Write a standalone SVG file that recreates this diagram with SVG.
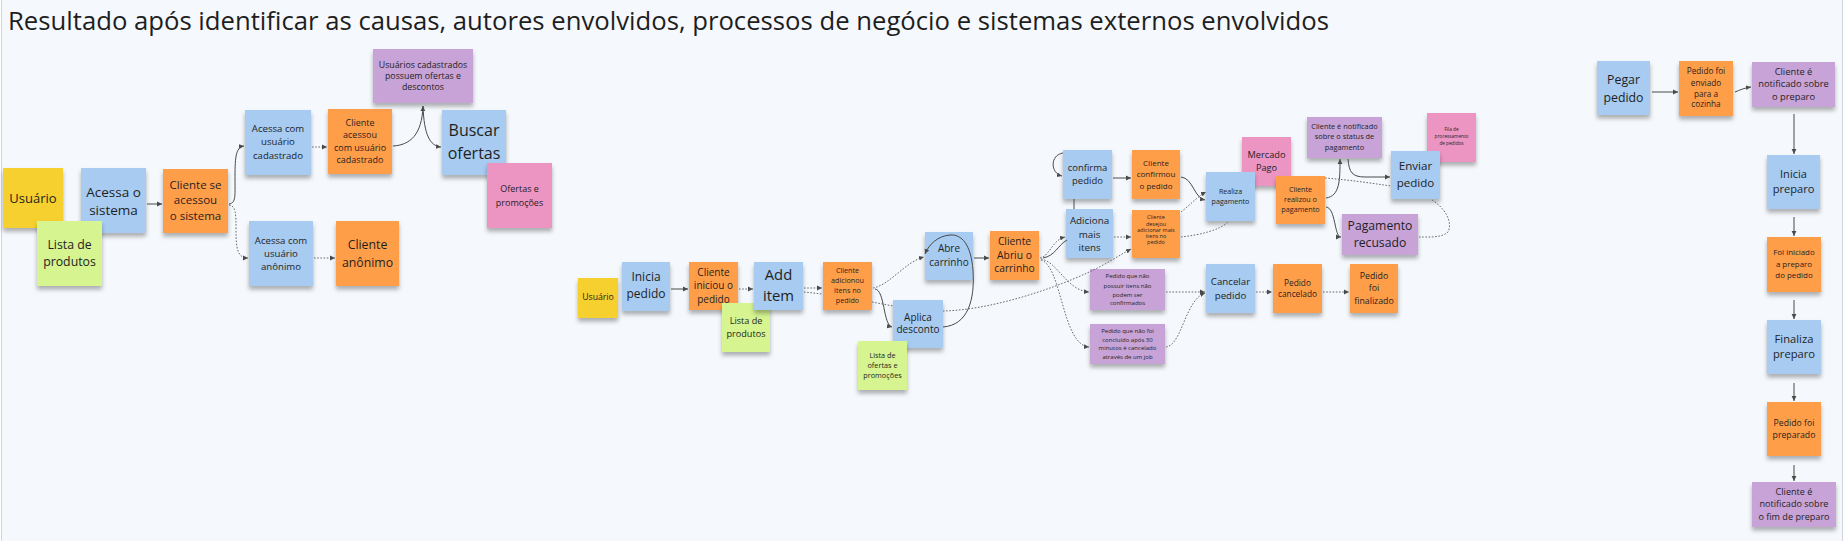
<svg xmlns="http://www.w3.org/2000/svg" width="1848" height="541" viewBox="0 0 1848 541">
<style>
.t{font-family:"Open Sans","Noto Sans","Liberation Sans",sans-serif;fill:#1f1f1f;text-anchor:middle}
.b{fill:#a7cbf1}.o{fill:#ff9e4a}.y{fill:#f6d02f}.g{fill:#d6f490}.p{fill:#c7a3d8}.k{fill:#ec95c3}
.n rect{filter:url(#sh)}
.c{fill:none;stroke:#4a4a4a;stroke-width:1}
.c.s{marker-end:url(#ar)}
.d{fill:none;stroke:#6a6a6a;stroke-width:1;stroke-dasharray:1.6 1.6}
.d.a{marker-end:url(#ar)}
.title{font-family:"Open Sans","Noto Sans","Liberation Sans",sans-serif;font-size:25px;fill:#1e1e1e}
</style>
<defs>
<filter id="sh" x="-10%" y="-10%" width="120%" height="130%">
<feDropShadow dx="0" dy="3.5" stdDeviation="2.2" flood-color="#000" flood-opacity="0.3"/>
</filter>
<marker id="ar" markerUnits="userSpaceOnUse" markerWidth="6" markerHeight="6" refX="5" refY="3" orient="auto">
<path d="M0,0.6 L5,3 L0,5.4 z" fill="#4a4a4a"/>
</marker>
</defs>
<rect x="0" y="0" width="1848" height="541" fill="#ffffff"/>
<rect x="1.5" y="-5" width="1841" height="560" fill="#f5f8fc" stroke="#d3d7dc" stroke-width="1"/>
<text class="title" x="8" y="30" textLength="1321" lengthAdjust="spacingAndGlyphs">Resultado após identificar as causas, autores envolvidos, processos de negócio e sistemas externos envolvidos</text>

<g id="nodes" class="n">
<g id="usuario1"><rect class="y" x="3" y="168" width="60" height="60"/><text class="t" font-size="13" x="33" y="202.7">Usuário</text></g>
<g id="acessa-sistema"><rect class="b" x="81" y="168" width="65" height="65"/><text class="t" font-size="13.5"><tspan x="113.5" y="196.5">Acessa o</tspan><tspan x="113.5" y="214.5">sistema</tspan></text></g>
<g id="lista-produtos-1"><rect class="g" x="37" y="221" width="65" height="65"/><text class="t" font-size="12.3"><tspan x="69.5" y="249.4">Lista de</tspan><tspan x="69.5" y="266.2">produtos</tspan></text></g>
<g id="cliente-se-acessou"><rect class="o" x="163" y="169" width="65" height="64"/><text class="t" font-size="11.5"><tspan x="195.5" y="189.3">Cliente se</tspan><tspan x="195.5" y="204.4">acessou</tspan><tspan x="195.5" y="219.8">o sistema</tspan></text></g>
<g id="acessa-cadastrado"><rect class="b" x="245" y="110" width="66" height="65"/><text class="t" font-size="9.6"><tspan x="278" y="132">Acessa com</tspan><tspan x="278" y="145.3">usuário</tspan><tspan x="278" y="158.6">cadastrado</tspan></text></g>
<g id="acessa-anonimo"><rect class="b" x="249" y="221" width="64" height="65"/><text class="t" font-size="9.6"><tspan x="281" y="243.5">Acessa com</tspan><tspan x="281" y="256.8">usuário</tspan><tspan x="281" y="270.2">anônimo</tspan></text></g>
<g id="cliente-cadastrado"><rect class="o" x="328" y="109" width="64" height="65"/><text class="t" font-size="9"><tspan x="360" y="125.9">Cliente</tspan><tspan x="360" y="138.4">acessou</tspan><tspan x="360" y="151.1">com usuário</tspan><tspan x="360" y="163.4">cadastrado</tspan></text></g>
<g id="cliente-anonimo"><rect class="o" x="336" y="221" width="63" height="65"/><text class="t" font-size="12.3"><tspan x="367.5" y="249.4">Cliente</tspan><tspan x="367.5" y="267.1">anônimo</tspan></text></g>
<g id="usuarios-cadastrados"><rect class="p" x="373" y="49" width="100" height="54"/><text class="t" font-size="8.8"><tspan x="423" y="67.5">Usuários cadastrados</tspan><tspan x="423" y="78.9">possuem ofertas e</tspan><tspan x="423" y="89.9">descontos</tspan></text></g>
<g id="buscar-ofertas"><rect class="b" x="442" y="110" width="64" height="65"/><text class="t" font-size="16"><tspan x="474" y="135.8">Buscar</tspan><tspan x="474" y="158.5">ofertas</tspan></text></g>
<g id="ofertas-promocoes"><rect class="k" x="487" y="163" width="65" height="65"/><text class="t" font-size="9"><tspan x="519.5" y="191.5">Ofertas e</tspan><tspan x="519.5" y="205.9">promoções</tspan></text></g>

<g id="usuario2"><rect class="y" x="578" y="278" width="40" height="40"/><text class="t" font-size="8.7" x="598" y="299.8">Usuário</text></g>
<g id="inicia-pedido"><rect class="b" x="622" y="262" width="48" height="49"/><text class="t" font-size="12"><tspan x="646" y="281">Inicia</tspan><tspan x="646" y="297.6">pedido</tspan></text></g>
<g id="cliente-iniciou"><rect class="o" x="689" y="262" width="49" height="48"/><text class="t" font-size="10"><tspan x="713.5" y="276.3">Cliente</tspan><tspan x="713.5" y="289.3">iniciou o</tspan><tspan x="713.5" y="302.9">pedido</tspan></text></g>
<g id="lista-produtos-2"><rect class="g" x="722" y="303" width="48" height="49"/><text class="t" font-size="9.1"><tspan x="746" y="324">Lista de</tspan><tspan x="746" y="336.6">produtos</tspan></text></g>
<g id="add-item"><rect class="b" x="754" y="262" width="49" height="48"/><text class="t" font-size="14.8"><tspan x="778.5" y="280.3">Add</tspan><tspan x="778.5" y="301.3">item</tspan></text></g>
<g id="cliente-adicionou"><rect class="o" x="823" y="262" width="49" height="48"/><text class="t" font-size="7.2"><tspan x="847.5" y="272.6">Cliente</tspan><tspan x="847.5" y="282.6">adicionou</tspan><tspan x="847.5" y="292.6">itens no</tspan><tspan x="847.5" y="302.6">pedido</tspan></text></g>
<g id="abre-carrinho"><rect class="b" x="925" y="232" width="48" height="48"/><text class="t" font-size="10"><tspan x="949" y="251.9">Abre</tspan><tspan x="949" y="266.3">carrinho</tspan></text></g>
<g id="aplica-desconto"><rect class="b" x="893" y="300" width="50" height="48"/><text class="t" font-size="10"><tspan x="918" y="321.3">Aplica</tspan><tspan x="918" y="332.9">desconto</tspan></text></g>
<g id="lista-ofertas"><rect class="g" x="858" y="341" width="49" height="49"/><text class="t" font-size="7.3"><tspan x="882.5" y="357.6">Lista de</tspan><tspan x="882.5" y="368.3">ofertas e</tspan><tspan x="882.5" y="378.3">promoções</tspan></text></g>
<g id="cliente-abriu"><rect class="o" x="990" y="231" width="49" height="49"/><text class="t" font-size="10.3"><tspan x="1014.5" y="245.4">Cliente</tspan><tspan x="1014.5" y="258.7">Abriu o</tspan><tspan x="1014.5" y="272">carrinho</tspan></text></g>
<g id="confirma-pedido"><rect class="b" x="1063" y="150" width="49" height="49"/><text class="t" font-size="9.5"><tspan x="1087.5" y="171.1">confirma</tspan><tspan x="1087.5" y="184.4">pedido</tspan></text></g>
<g id="adiciona-itens"><rect class="b" x="1066" y="209" width="47" height="49"/><text class="t" font-size="9.8"><tspan x="1089.5" y="224.2">Adiciona</tspan><tspan x="1089.5" y="237.5">mais</tspan><tspan x="1089.5" y="250.8">itens</tspan></text></g>
<g id="cliente-confirmou"><rect class="o" x="1132" y="150" width="48" height="49"/><text class="t" font-size="8"><tspan x="1156" y="166.2">Cliente</tspan><tspan x="1156" y="177.2">confirmou</tspan><tspan x="1156" y="188.6">o pedido</tspan></text></g>
<g id="cliente-desejou"><rect class="o" x="1132" y="210" width="48" height="48"/><text class="t" font-size="5.5"><tspan x="1156" y="219.3">Cliente</tspan><tspan x="1156" y="225.5">desejou</tspan><tspan x="1156" y="231.7">adicionar mais</tspan><tspan x="1156" y="237.9">itens no</tspan><tspan x="1156" y="244.1">pedido</tspan></text></g>
<g id="nao-possuir"><rect class="p" x="1090" y="269" width="75" height="41"/><text class="t" font-size="6"><tspan x="1127.5" y="278.2">Pedido que não</tspan><tspan x="1127.5" y="287.9">possuir itens não</tspan><tspan x="1127.5" y="296.5">podem ser</tspan><tspan x="1127.5" y="304.9">confirmados</tspan></text></g>
<g id="nao-concluido"><rect class="p" x="1090" y="324" width="75" height="40"/><text class="t" font-size="6"><tspan x="1127.5" y="333.2">Pedido que não foi</tspan><tspan x="1127.5" y="341.5">concluído após 30</tspan><tspan x="1127.5" y="349.9">minutos é cancelado</tspan><tspan x="1127.5" y="358.9">através de um job</tspan></text></g>
<g id="mercado-pago"><rect class="k" x="1242" y="137" width="49" height="49"/><text class="t" font-size="9.2"><tspan x="1266.5" y="158.3">Mercado</tspan><tspan x="1266.5" y="171">Pago</tspan></text></g>
<g id="realiza-pagamento"><rect class="b" x="1206" y="172" width="49" height="49"/><text class="t" font-size="7.1"><tspan x="1230.5" y="193.6">Realiza</tspan><tspan x="1230.5" y="203.6">pagamento</tspan></text></g>
<g id="cliente-realizou"><rect class="o" x="1276" y="176" width="49" height="48"/><text class="t" font-size="7.2"><tspan x="1300.5" y="191.9">Cliente</tspan><tspan x="1300.5" y="201.9">realizou o</tspan><tspan x="1300.5" y="211.9">pagamento</tspan></text></g>
<g id="notificado-status"><rect class="p" x="1307" y="117" width="75" height="41"/><text class="t" font-size="7.4"><tspan x="1344.5" y="128.7">Cliente é notificado</tspan><tspan x="1344.5" y="139.4">sobre o status de</tspan><tspan x="1344.5" y="150">pagamento</tspan></text></g>
<g id="fila-processamento"><rect class="k" x="1427" y="113" width="49" height="49"/><text class="t" font-size="4.7"><tspan x="1451.5" y="130.7">Fila de</tspan><tspan x="1451.5" y="137.7">processamento</tspan><tspan x="1451.5" y="145">de pedidos</tspan></text></g>
<g id="enviar-pedido"><rect class="b" x="1391" y="151" width="49" height="48"/><text class="t" font-size="11.6"><tspan x="1415.5" y="169.9">Enviar</tspan><tspan x="1415.5" y="186.9">pedido</tspan></text></g>
<g id="pagamento-recusado"><rect class="p" x="1342" y="214" width="76" height="41"/><text class="t" font-size="12.2"><tspan x="1380" y="230.4">Pagamento</tspan><tspan x="1380" y="247.1">recusado</tspan></text></g>
<g id="cancelar-pedido"><rect class="b" x="1206" y="264" width="49" height="49"/><text class="t" font-size="9.7"><tspan x="1230.5" y="285.2">Cancelar</tspan><tspan x="1230.5" y="298.5">pedido</tspan></text></g>
<g id="pedido-cancelado"><rect class="o" x="1273" y="264" width="49" height="49"/><text class="t" font-size="8.3"><tspan x="1297.5" y="285.7">Pedido</tspan><tspan x="1297.5" y="297">cancelado</tspan></text></g>
<g id="pedido-finalizado"><rect class="o" x="1350" y="264" width="48" height="49"/><text class="t" font-size="8.8"><tspan x="1374" y="278.9">Pedido</tspan><tspan x="1374" y="290.9">foi</tspan><tspan x="1374" y="304.2">finalizado</tspan></text></g>

<g id="pegar-pedido"><rect class="b" x="1597" y="61" width="53" height="54"/><text class="t" font-size="12.3"><tspan x="1623.5" y="84.4">Pegar</tspan><tspan x="1623.5" y="101.7">pedido</tspan></text></g>
<g id="enviado-cozinha"><rect class="o" x="1679" y="61" width="54" height="55"/><text class="t" font-size="8.2"><tspan x="1706" y="74">Pedido foi</tspan><tspan x="1706" y="85.7">enviado</tspan><tspan x="1706" y="97">para a</tspan><tspan x="1706" y="107.3">cozinha</tspan></text></g>
<g id="notificado-preparo"><rect class="p" x="1752" y="62" width="83" height="45"/><text class="t" font-size="9.3"><tspan x="1793.5" y="75">Cliente é</tspan><tspan x="1793.5" y="87.3">notificado sobre</tspan><tspan x="1793.5" y="100">o preparo</tspan></text></g>
<g id="inicia-preparo"><rect class="b" x="1767" y="155" width="53" height="54"/><text class="t" font-size="11.1"><tspan x="1793.5" y="178.3">Inicia</tspan><tspan x="1793.5" y="193.3">preparo</tspan></text></g>
<g id="foi-iniciado"><rect class="o" x="1767" y="237" width="54" height="55"/><text class="t" font-size="7.9"><tspan x="1794" y="255.1">Foi iniciado</tspan><tspan x="1794" y="266.8">a preparo</tspan><tspan x="1794" y="277.8">do pedido</tspan></text></g>
<g id="finaliza-preparo"><rect class="b" x="1767" y="320" width="54" height="54"/><text class="t" font-size="11.2"><tspan x="1794" y="343.3">Finaliza</tspan><tspan x="1794" y="358.3">preparo</tspan></text></g>
<g id="pedido-preparado"><rect class="o" x="1767" y="402" width="54" height="54"/><text class="t" font-size="8.7"><tspan x="1794" y="425.8">Pedido foi</tspan><tspan x="1794" y="438.1">preparado</tspan></text></g>
<g id="notificado-fim"><rect class="p" x="1752" y="482" width="84" height="45"/><text class="t" font-size="9.1"><tspan x="1794" y="494.5">Cliente é</tspan><tspan x="1794" y="506.5">notificado sobre</tspan><tspan x="1794" y="520">o fim de preparo</tspan></text></g>
</g>

<g id="connectors">
<path class="c s" d="M147,204 L162,204"/>
<path class="c s" d="M229,204 C236,203 235,196 235,180 C235,160 235,147 244,146"/>
<path class="d a" d="M229,205 C236,206 236,214 236,230 C236,250 238,258 248,258"/>
<path class="d a" d="M312,147 L327,147"/>
<path class="d a" d="M314,258 L335,258"/>
<path class="c s" d="M393,146 C410,145 422,135 423,106"/>
<path class="c s" d="M423,106 C424,135 430,146 441,147"/>

<path class="c s" d="M671,289 L688,289"/>
<path class="d a" d="M739,289 L753,289"/>
<path class="d a" d="M804,288 L822,288"/>
<path class="d" d="M804,292 L822,294"/>
<path class="d" d="M872,302 L893,306"/>
<path class="d a" d="M943,311 C990,310 1050,290 1087,273 C1105,265 1118,256 1131,249"/>
<path class="d a" d="M873,288 C890,285 905,262 924,257"/>
<path class="c s" d="M875,289 C885,290 883,325 892,327"/>
<path class="c s" d="M943,327 C968,325 975,300 973,270 C971,245 962,234 950,235 C938,236 929,244 925,254"/>
<path class="c s" d="M974,258 L989,258"/>
<path class="d a" d="M1040,258 C1050,256 1052,240 1065,237"/>
<path class="c" d="M1043,258 C1055,256 1058,245 1067,240"/>
<path class="d a" d="M1041,259 C1058,262 1066,290 1089,292"/>
<path class="d a" d="M1041,260 C1062,266 1062,345 1089,347"/>
<path class="c s" d="M1113,178 L1131,178"/>
<path class="c s" d="M1063,153 C1050,155 1050,173 1062,176"/>
<path class="c" d="M1074,199 L1074,209"/>
<path class="d a" d="M1114,237 L1131,237"/>
<path class="d a" d="M1166,292 L1205,292"/>
<path class="d a" d="M1166,347 C1182,345 1185,300 1205,293"/>
<path class="c s" d="M1181,177 C1193,178 1194,198 1205,200"/>
<path class="d a" d="M1181,212 C1190,205 1198,196 1206,192"/>
<path class="d" d="M1181,237 C1200,235 1220,230 1228,222"/>
<path class="c s" d="M1326,198 C1340,196 1340,180 1340,159"/>
<path class="c s" d="M1326,207 C1336,208 1334,237 1341,237"/>
<path class="c s" d="M1348,159 C1349,172 1352,177 1365,177 L1390,177"/>
<path class="d" d="M1325,178 C1350,180 1370,183 1391,186"/>
<path class="d" d="M1432,200 C1445,208 1453,222 1448,232 C1442,238 1428,237 1419,237"/>
<path class="d a" d="M1256,292 L1272,292"/>
<path class="d a" d="M1323,292 L1349,292"/>

<path class="c s" d="M1652,92 L1678,92"/>
<path class="c s" d="M1735,92 C1740,90 1744,88 1751,87"/>
<path class="c s" d="M1794,114 L1794,154"/>
<path class="c s" d="M1794,217 L1794,236"/>
<path class="c s" d="M1794,300 L1794,319"/>
<path class="c s" d="M1794,383 L1794,401"/>
<path class="c s" d="M1794,465 L1794,481"/>
</g>
</svg>
